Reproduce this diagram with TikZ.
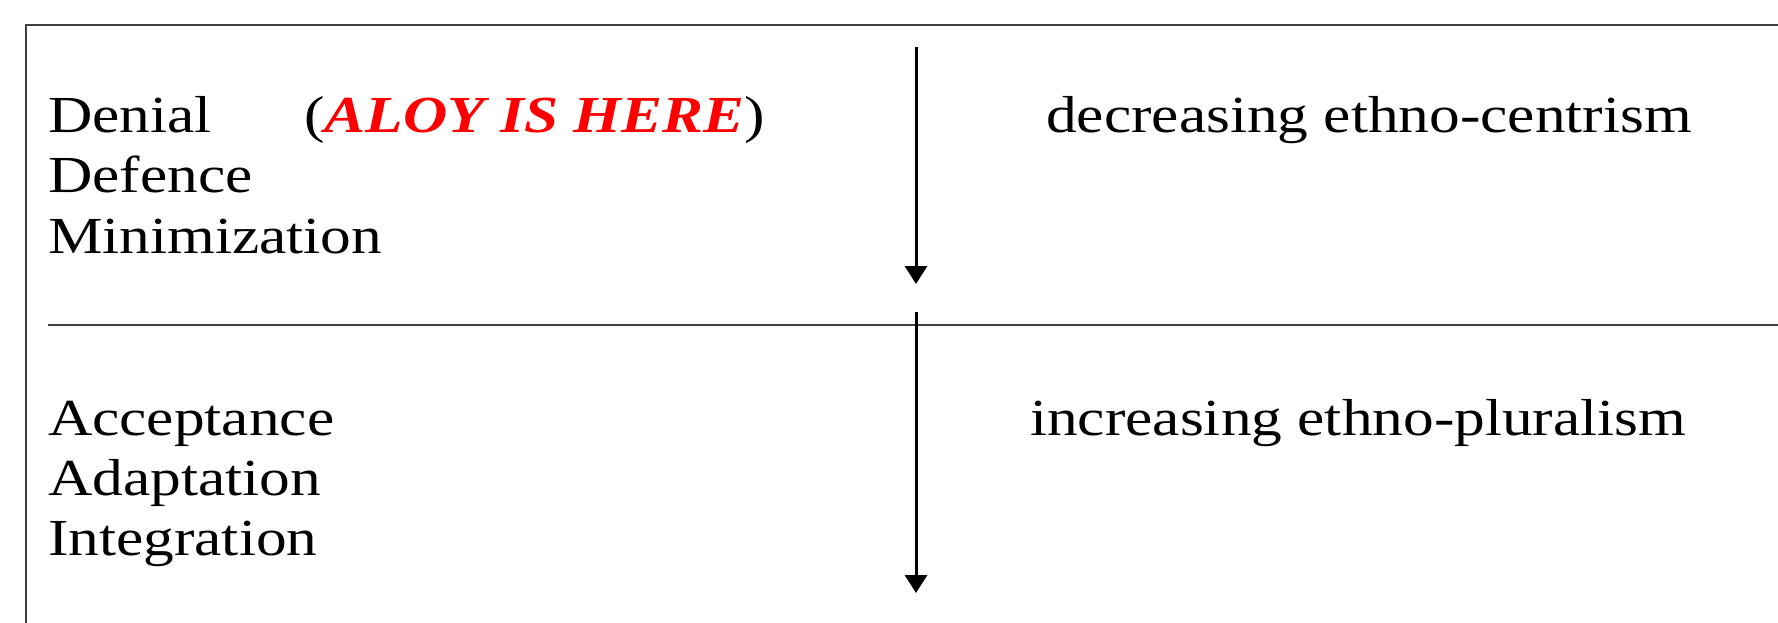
\documentclass[tikz,border=0pt]{standalone}
\usepackage{fontspec}
\setmainfont{Liberation Serif}[FakeStretch=1.18]
\usetikzlibrary{arrows.meta}
\begin{document}
\begin{tikzpicture}[x=1pt,y=-1pt,
  lbl/.style={anchor=base west,inner sep=0pt,font=\fontsize{52}{60}\selectfont},
  rule/.style={line width=2pt,draw=black!75},
  flow/.style={line width=3pt,-{Triangle[width=22pt,length=18pt]}}]
\useasboundingbox (0,0) rectangle (1778,623);
% frame
\draw[rule] (26,623) -- (26,25) -- (1778,25);
\draw[rule] (48,325) -- (1778,325);
% left labels
\node[lbl] (denial) at (48,133) {Denial};
\node[lbl] (aloy) at (304,133) {(\textcolor{red}{\textbf{\textit{ALOY IS HERE}}})};
\node[lbl] (defence) at (48,193) {Defence};
\node[lbl] (minim) at (48,253) {Minimization};
\node[lbl] (accept) at (48,435) {Acceptance};
\node[lbl] (adapt) at (48,495) {Adaptation};
\node[lbl] (integ) at (48,555) {Integration};
% right labels
\node[lbl] (decr) at (1046,133) {decreasing ethno-centrism};
\node[lbl] (incr) at (1030,435) {increasing ethno-pluralism};
% arrows
\coordinate (a1s) at (916,47);
\coordinate (a1e) at (916,284);
\coordinate (a2s) at (916,312);
\coordinate (a2e) at (916,593);
\draw[flow] (a1s) -- (a1e);
\draw[flow] (a2s) -- (a2e);
\end{tikzpicture}
\end{document}
